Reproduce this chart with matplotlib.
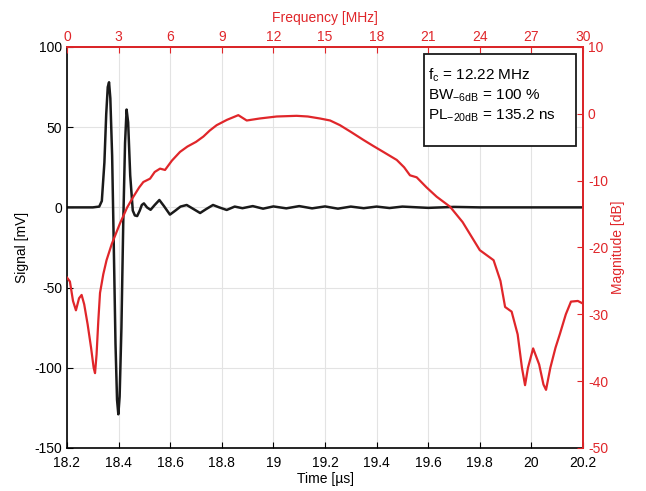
import matplotlib
matplotlib.use("Agg")
import matplotlib.pyplot as plt
from matplotlib.patches import Rectangle

plt.rcParams['font.family'] = ['Liberation Sans', 'DejaVu Sans']
plt.rcParams['mathtext.fontset'] = 'custom'
plt.rcParams['mathtext.rm'] = 'Liberation Sans'
plt.rcParams['axes.unicode_minus'] = False

RED = "#e0262a"

# time signal (us, mV)
time_us = [18.20, 18.30, 18.325, 18.335, 18.345, 18.352, 18.358, 18.363, 18.368, 18.375,
           18.382, 18.388, 18.394, 18.399, 18.404, 18.411, 18.418, 18.425, 18.431, 18.437,
           18.445, 18.455, 18.463, 18.472, 18.482, 18.49, 18.498, 18.51, 18.524, 18.54,
           18.558, 18.575, 18.599, 18.62, 18.64, 18.664, 18.69, 18.716, 18.74, 18.766,
           18.79, 18.819, 18.85, 18.88, 18.92, 18.96, 19.0, 19.05, 19.1, 19.15,
           19.2, 19.25, 19.3, 19.35, 19.4, 19.45, 19.5, 19.6, 19.7, 19.8, 20.2]
signal_mv = [0, 0, 0.5, 4, 28, 58, 75, 78, 68, 32,
             -30, -85, -120, -129, -118, -75, -10, 40, 61, 53,
             20, -2, -5, -5.4, -2, 1.5, 2.5, 0, -1.5, 1.5,
             4.6, 1, -4.5, -2, 0.5, 1.5, -1, -3.5, -1, 1.5,
             0, -1.6, 0.5, -0.5, 0.8, -0.8, 0.6, -0.6, 0.8, -0.6,
             0.6, -0.8, 0.5, -0.5, 0.5, -0.4, 0.5, -0.3, 0.3, 0, 0]

# spectrum (MHz, dB)
freq_mhz = [0, 0.17, 0.35, 0.52, 0.7, 0.85, 1.0, 1.2, 1.4, 1.55, 1.63, 1.72, 1.82, 1.92,
            2.11, 2.3, 2.6, 3.08, 3.5, 3.86, 4.2, 4.44, 4.83, 5.1, 5.41, 5.7, 6.1, 6.57,
            7.0, 7.5, 7.93, 8.3, 8.7, 9.3, 9.96, 10.45, 11.2, 12.19, 13.35, 14.0, 14.71,
            15.3, 15.87, 16.5, 17.23, 17.8, 18.39, 19.17, 19.6, 19.94, 20.33, 20.9, 21.49,
            22.27, 23.0, 24.0, 24.8, 25.2, 25.47, 25.85, 26.2, 26.45, 26.63, 26.8, 27.1,
            27.45, 27.7, 27.85, 28.1, 28.4, 28.66, 29.0, 29.3, 29.7, 30.0]
mag_db = [-24.5, -25.1, -28, -29.4, -27.6, -27.1, -28.5, -31.5, -35, -38, -38.8, -36, -31, -26.8,
          -24, -21.9, -19.5, -16.4, -14, -12.4, -11, -10.2, -9.7, -8.7, -8.2, -8.4, -7, -5.7,
          -4.9, -4.2, -3.4, -2.5, -1.7, -0.9, -0.2, -1.0, -0.7, -0.4, -0.3, -0.4, -0.7,
          -1.0, -1.7, -2.7, -3.9, -4.8, -5.7, -6.9, -8, -9.2, -9.5, -11, -12.4,
          -13.9, -16.2, -20.4, -21.9, -25, -28.9, -29.6, -33, -38, -40.6, -38, -35.1,
          -37.5, -40.5, -41.3, -38, -35, -32.9, -30, -28.1, -28, -28.4]

time_ticks = [18.2, 18.4, 18.6, 18.8, 19.0, 19.2, 19.4, 19.6, 19.8, 20.0, 20.2]
time_labels = ["18.2", "18.4", "18.6", "18.8", "19", "19.2", "19.4", "19.6", "19.8", "20", "20.2"]
freq_ticks = [0, 3, 6, 9, 12, 15, 18, 21, 24, 27, 30]
signal_ticks = [-150, -100, -50, 0, 50, 100]
db_ticks = [-50, -40, -30, -20, -10, 0, 10]

info_lines = ["f$_{\\rm c}$ = 12.22 MHz",
              "BW$_{\\rm {-}6dB}$ = 100 %",
              "PL$_{\\rm {-}20dB}$ = 135.2 ns"]

fig = plt.figure(figsize=(6.46, 4.91), dpi=100)
ax = fig.add_axes([0.1037, 0.0876, 0.7988, 0.8167])

ax.plot(time_us, signal_mv, color="#1a1a1a", lw=1.8)
ax.set_xlim(18.2, 20.2)
ax.set_ylim(-150, 100)
ax.set_xticks(time_ticks)
ax.set_xticklabels(time_labels)
ax.set_yticks(signal_ticks)
ax.grid(True, color="#e3e3e3", lw=0.8)
ax.tick_params(direction="in", labelsize=10, length=4, top=False, right=False)
ax.tick_params(axis="x", pad=6)
ax.set_xlabel("Time [\u00b5s]", fontsize=10, labelpad=1)
ax.set_ylabel("Signal [mV]", fontsize=10, labelpad=4)
for s in ax.spines.values():
    s.set_linewidth(1.2)

ax2 = ax.twinx()
ax2.set_ylim(-50, 10)
ax2.set_yticks(db_ticks)
ax2.tick_params(axis="y", direction="in", labelsize=10, colors=RED, length=4)
ax2.set_ylabel("Magnitude [dB]", fontsize=10, color=RED, labelpad=2)

ax3 = ax2.twiny()
ax3.plot(freq_mhz, mag_db, color=RED, lw=1.6)
ax3.set_xlim(0, 30)
ax3.set_xticks(freq_ticks)
ax3.tick_params(axis="x", direction="in", labelsize=10, colors=RED, length=4, pad=2)
ax3.set_xlabel("Frequency [MHz]", fontsize=10, color=RED, labelpad=6)

for a in (ax2, ax3):
    a.spines["top"].set_color(RED)
    a.spines["right"].set_color(RED)
    a.spines["top"].set_linewidth(1.2)
    a.spines["right"].set_linewidth(1.2)
    a.spines["left"].set_visible(False)
    a.spines["bottom"].set_visible(False)

# info box
ax3.add_patch(Rectangle((0.692, 0.753), 0.294, 0.2295, transform=ax3.transAxes,
                        fc="white", ec="#1a1a1a", lw=1.3, zorder=5))
for i, line in enumerate(info_lines):
    ax3.text(0.70, 0.930 - 0.051 * i, line, transform=ax3.transAxes, fontsize=11,
             va="center", ha="left", zorder=6)

fig.savefig("out.png", dpi=100)
